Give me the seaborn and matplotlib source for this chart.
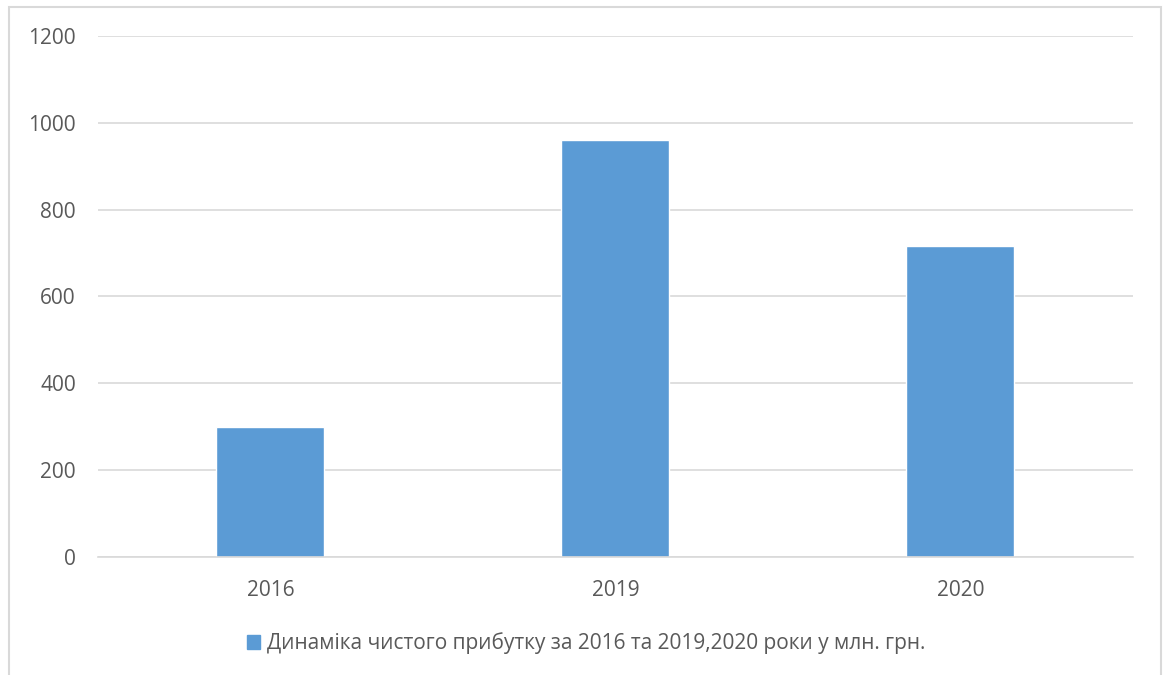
import matplotlib
matplotlib.use("Agg")
import matplotlib.pyplot as plt
from matplotlib.patches import Rectangle
import seaborn as sns
import pandas as pd

# data
years = ["2016", "2019", "2020"]
profit = [300, 961, 715]
series_name = "Динаміка чистого прибутку за 2016 та 2019,2020 роки у млн. грн."

bar_color = "#5B9BD5"
grid_color = "#D9D9D9"
text_color = "#595959"

sns.set_style("white")
plt.rcParams['font.family'] = ['Liberation Sans Narrow', 'Open Sans', 'DejaVu Sans']

df = pd.DataFrame({'year': years, 'profit': profit, 'series': series_name})

fig = plt.figure(figsize=(11.65, 6.75), dpi=100)
ax = fig.add_axes([0.0841, 0.1751, 0.8884, 0.7716])

sns.barplot(data=df, x='year', y='profit', hue='series', palette=[bar_color],
            width=0.313, ax=ax, legend=False, saturation=1)

ax.set_ylim(0, 1200)
ax.set_yticks(range(0, 1201, 200))
ax.set_xlim(-0.5, 2.5)
ax.grid(axis='y', color=grid_color, linewidth=1.2)
ax.set_axisbelow(True)
for side in ['left', 'right', 'top']:
    ax.spines[side].set_visible(False)
ax.spines['bottom'].set_color(grid_color)
ax.spines['bottom'].set_linewidth(1.2)
ax.tick_params(axis='both', length=0, labelsize=15, labelcolor=text_color)
ax.tick_params(axis='y', pad=16)
ax.tick_params(axis='x', pad=17)
ax.set_xlabel('')
ax.set_ylabel('')

# legend below the plot
handle = Rectangle((0, 0), 1, 1, color=bar_color)
fig.legend([handle], [series_name], loc='center', bbox_to_anchor=(0.503, 0.047),
           frameon=False, fontsize=15, labelcolor=text_color,
           handlelength=0.65, handleheight=0.65, handletextpad=0.3)

# outer chart border
fig.patches.append(Rectangle((9 / 1165, -0.05), 1152 / 1165, 1.05 - 7 / 675,
                             transform=fig.transFigure, fill=False,
                             edgecolor=grid_color, linewidth=1.5))

fig.savefig('out.png', dpi=100)
